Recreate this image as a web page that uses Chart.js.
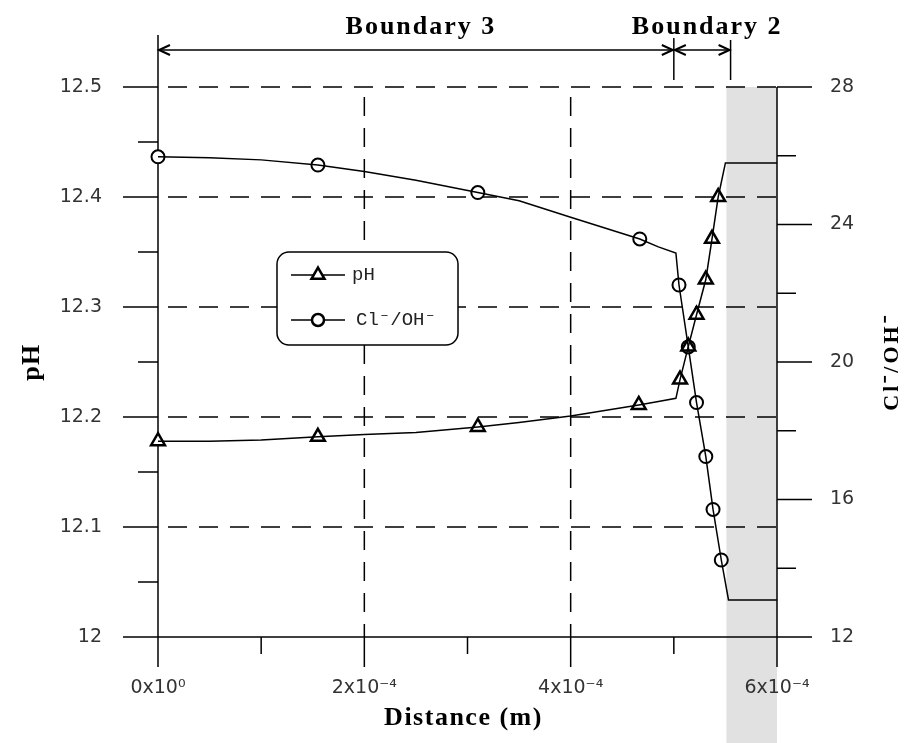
<!DOCTYPE html>
<html>
<head>
<meta charset="utf-8">
<script src="https://cdn.jsdelivr.net/npm/chart.js@4.4.0/dist/chart.umd.min.js"></script>
<style>
  html, body { margin: 0; padding: 0; background: #fff; }
</style>
</head>
<body>
<canvas id="chart" width="911" height="743"></canvas>
<script>
// marker positions (distance in m)
const phMarkX = [0, 1.55e-4, 3.1e-4, 4.66e-4, 5.06e-4, 5.14e-4, 5.22e-4, 5.31e-4, 5.37e-4, 5.43e-4];
const phMarkY = [12.178, 12.182, 12.191, 12.211, 12.234, 12.264, 12.293, 12.325, 12.362, 12.400];
const clMarkX = [0, 1.55e-4, 3.1e-4, 4.67e-4, 5.05e-4, 5.14e-4, 5.22e-4, 5.31e-4, 5.38e-4, 5.46e-4];
const clMarkY = [25.97, 25.73, 24.93, 23.58, 22.24, 20.44, 18.82, 17.25, 15.71, 14.24];

// model curves
const phLineX = [0, 0.5e-4, 1.0e-4, 1.55e-4, 2.0e-4, 2.5e-4, 3.1e-4, 3.5e-4, 4.0e-4, 4.66e-4, 4.85e-4, 5.02e-4, 5.06e-4, 5.14e-4, 5.22e-4, 5.31e-4, 5.37e-4, 5.43e-4, 5.5e-4, 6e-4];
const phLineY = [12.178, 12.178, 12.179, 12.182, 12.184, 12.186, 12.191, 12.195, 12.201, 12.211, 12.214, 12.217, 12.234, 12.264, 12.293, 12.325, 12.362, 12.400, 12.431, 12.431];
const clLineX = [0, 0.5e-4, 1.0e-4, 1.55e-4, 2.0e-4, 2.5e-4, 3.1e-4, 3.5e-4, 4.0e-4, 4.67e-4, 4.85e-4, 5.02e-4, 5.05e-4, 5.14e-4, 5.22e-4, 5.31e-4, 5.38e-4, 5.46e-4, 5.53e-4, 6e-4];
const clLineY = [25.97, 25.94, 25.88, 25.73, 25.54, 25.29, 24.93, 24.69, 24.21, 23.58, 23.35, 23.17, 22.24, 20.44, 18.82, 17.25, 15.71, 14.24, 13.08, 13.08];

const boundaryEdges = [0, 5.0e-4, 5.55e-4];
const boundaryLabels = ["Boundary 3", "Boundary 2"];
const bandStart = 5.51e-4;

const seriesNames = ["pH", "Cl\u207B/OH\u207B"];

function pts(xs, ys) {
  return xs.map((x, i) => ({ x: x, y: ys[i] }));
}

function isMajor(id, v) {
  if (id === "x") return Math.round(v * 1e4) % 2 === 0;
  if (id === "y") return Math.round(v * 100) % 10 === 0;
  return Math.round(v) % 4 === 0;
}

function tri(ctx, x, y, r) {
  let a = 0;
  ctx.beginPath();
  ctx.moveTo(x + Math.sin(a) * r, y - Math.cos(a) * r);
  a += Math.PI * 2 / 3;
  ctx.lineTo(x + Math.sin(a) * r, y - Math.cos(a) * r);
  a += Math.PI * 2 / 3;
  ctx.lineTo(x + Math.sin(a) * r, y - Math.cos(a) * r);
  ctx.closePath();
}

function line(ctx, x1, y1, x2, y2) {
  ctx.beginPath();
  ctx.moveTo(x1, y1);
  ctx.lineTo(x2, y2);
  ctx.stroke();
}

const frame = {
  id: "frame",
  beforeDraw(chart) {
    const { ctx, chartArea: a, scales } = chart;
    // shaded zone, under everything
    const gx = scales.x.getPixelForValue(bandStart);
    ctx.save();
    ctx.fillStyle = "#e1e1e1";
    ctx.fillRect(gx, a.top, a.right - gx, chart.height - a.top);
    ctx.restore();
  },
  beforeDatasetsDraw(chart) {
    const { ctx, chartArea: a, scales } = chart;
    ctx.save();
    ctx.strokeStyle = "#000";
    ctx.lineWidth = 1.5;
    // dashed grid
    ctx.setLineDash([19, 12]);
    ctx.lineDashOffset = -10;
    scales.y.ticks.forEach(t => {
      if (t.value > 12.001 && isMajor("y", t.value)) {
        const py = scales.y.getPixelForValue(t.value);
        line(ctx, a.left, py, a.right, py);
      }
    });
    scales.x.ticks.forEach(t => {
      if (t.value > 1e-6 && t.value < 5.9e-4 && isMajor("x", t.value)) {
        const px = scales.x.getPixelForValue(t.value);
        line(ctx, px, a.top, px, a.bottom);
      }
    });
    ctx.setLineDash([]);
    // axes
    line(ctx, a.left, a.top, a.left, a.bottom);
    line(ctx, a.right, a.top, a.right, a.bottom);
    line(ctx, a.left, a.bottom, a.right, a.bottom);
    // tick marks
    scales.y.ticks.forEach(t => {
      const py = scales.y.getPixelForValue(t.value);
      line(ctx, a.left - (isMajor("y", t.value) ? 35 : 20), py, a.left, py);
    });
    scales.y1.ticks.forEach(t => {
      const py = scales.y1.getPixelForValue(t.value);
      line(ctx, a.right, py, a.right + (isMajor("y1", t.value) ? 35 : 19), py);
    });
    scales.x.ticks.forEach(t => {
      const px = scales.x.getPixelForValue(t.value);
      line(ctx, px, a.bottom, px, a.bottom + (isMajor("x", t.value) ? 30 : 17));
    });
    ctx.restore();
  },
  afterDatasetsDraw(chart) {
    const { ctx, chartArea: a, scales } = chart;
    ctx.save();
    ctx.strokeStyle = "#000";
    ctx.fillStyle = "#000";
    ctx.lineWidth = 1.5;

    // legend box
    const lx = a.left + 119, ly = a.top + 165, lw = 181, lh = 93;
    ctx.beginPath();
    ctx.roundRect(lx, ly, lw, lh, 12);
    ctx.fillStyle = "#fff";
    ctx.fill();
    ctx.stroke();
    ctx.font = "19px 'Liberation Mono', monospace";
    ctx.textBaseline = "middle";
    ctx.textAlign = "left";
    [0, 1].forEach(i => {
      const yy = ly + 23 + i * 45;
      line(ctx, lx + 14, yy, lx + 68, yy);
      ctx.lineWidth = 2.5;
      if (i === 0) tri(ctx, lx + 41, yy, 7.5);
      else { ctx.beginPath(); ctx.arc(lx + 41, yy, 6, 0, Math.PI * 2); }
      ctx.fillStyle = "#fff";
      ctx.fill();
      ctx.stroke();
      ctx.lineWidth = 1.5;
      ctx.fillStyle = "#222";
      ctx.fillText(seriesNames[i], lx + 75 + i * 4, yy);
    });

    // boundary arrows
    const ay = 50;
    const bx = boundaryEdges.map(v => scales.x.getPixelForValue(v));
    line(ctx, bx[0], 35, bx[0], a.top);
    line(ctx, bx[1], 38, bx[1], 80);
    line(ctx, bx[2], 40, bx[2], 80);
    for (let i = 0; i < 2; i++) {
      const x1 = bx[i] + 1, x2 = bx[i + 1] - 1;
      line(ctx, x1, ay, x2, ay);
      ctx.beginPath();
      ctx.moveTo(x1 + 11, ay - 5); ctx.lineTo(x1, ay); ctx.lineTo(x1 + 11, ay + 5);
      ctx.moveTo(x2 - 11, ay - 5); ctx.lineTo(x2, ay); ctx.lineTo(x2 - 11, ay + 5);
      ctx.lineWidth = 2;
      ctx.stroke();
      ctx.lineWidth = 1.5;
    }
    ctx.fillStyle = "#000";
    ctx.font = "bold 26px 'Liberation Serif', serif";
    ctx.letterSpacing = "2px";
    ctx.textAlign = "center";
    ctx.textBaseline = "alphabetic";
    ctx.fillText(boundaryLabels[0], (bx[0] + bx[1]) / 2 + 5, 34);
    ctx.fillText(boundaryLabels[1], (bx[1] + bx[2]) / 2 + 5, 34);

    // axis titles
    ctx.letterSpacing = "1.5px";
    ctx.textBaseline = "middle";
    ctx.fillText("Distance (m)", (a.left + a.right) / 2 - 4, 718);
    const mid = (a.top + a.bottom) / 2;
    ctx.save();
    ctx.translate(32, mid);
    ctx.rotate(-Math.PI / 2);
    ctx.fillText("pH", 0, 0);
    ctx.restore();
    ctx.save();
    ctx.font = "bold 22px 'Liberation Serif', serif";
    ctx.letterSpacing = "3px";
    ctx.translate(892, mid);
    ctx.rotate(-Math.PI / 2);
    ctx.fillText(seriesNames[1], 0, 0);
    ctx.restore();
    ctx.restore();
  }
};

const tickFont = { family: "'DejaVu Sans', sans-serif", size: 19 };

new Chart(document.getElementById("chart"), {
  type: "scatter",
  data: {
    datasets: [
      {
        label: "pH line",
        data: pts(phLineX, phLineY),
        yAxisID: "y",
        showLine: true,
        borderColor: "#000",
        borderWidth: 1.5,
        pointRadius: 0,
        tension: 0
      },
      {
        label: "Cl line",
        data: pts(clLineX, clLineY),
        yAxisID: "y1",
        showLine: true,
        borderColor: "#000",
        borderWidth: 1.5,
        pointRadius: 0,
        tension: 0
      },
      {
        label: seriesNames[0],
        data: pts(phMarkX, phMarkY),
        yAxisID: "y",
        showLine: false,
        pointStyle: "triangle",
        pointRadius: 8,
        pointBorderWidth: 2.5,
        pointBorderColor: "#000",
        pointBackgroundColor: "#fff",
        clip: false
      },
      {
        label: seriesNames[1],
        data: pts(clMarkX, clMarkY),
        yAxisID: "y1",
        showLine: false,
        pointStyle: "circle",
        pointRadius: 6.5,
        pointBorderWidth: 2,
        pointBorderColor: "#000",
        pointBackgroundColor: "#fff",
        clip: false
      }
    ]
  },
  options: {
    responsive: false,
    animation: false,
    layout: { padding: { top: 87, left: 0, right: 0, bottom: 0 } },
    plugins: { legend: { display: false }, tooltip: { enabled: false } },
    scales: {
      x: {
        type: "linear",
        min: 0,
        max: 6e-4,
        grid: { display: false, drawTicks: false },
        border: { display: false },
        ticks: {
          stepSize: 1e-4,
          autoSkip: false,
          maxRotation: 0,
          padding: 40,
          color: "#333",
          font: tickFont,
          callback: v => {
            const n = Math.round(v * 1e4);
            if (n % 2) return "";
            return n === 0 ? "0x10\u2070" : n + "x10\u207B\u2074";
          }
        },
        afterFit: s => { s.height = 106; }
      },
      y: {
        position: "left",
        min: 12,
        max: 12.5,
        grid: { display: false, drawTicks: false },
        border: { display: false },
        ticks: {
          stepSize: 0.05,
          autoSkip: false,
          padding: 56,
          color: "#333",
          font: tickFont,
          callback: v => {
            const n = Math.round(v * 100);
            if (n % 10) return "";
            return String(n / 100);
          }
        },
        afterFit: s => { s.width = 158; }
      },
      y1: {
        position: "right",
        min: 12,
        max: 28,
        grid: { display: false, drawTicks: false },
        border: { display: false },
        ticks: {
          stepSize: 2,
          autoSkip: false,
          padding: 53,
          color: "#333",
          font: tickFont,
          callback: v => (Math.round(v) % 4 ? "" : String(v))
        },
        afterFit: s => { s.width = 134; }
      }
    }
  },
  plugins: [frame]
});
</script>
</body>
</html>
